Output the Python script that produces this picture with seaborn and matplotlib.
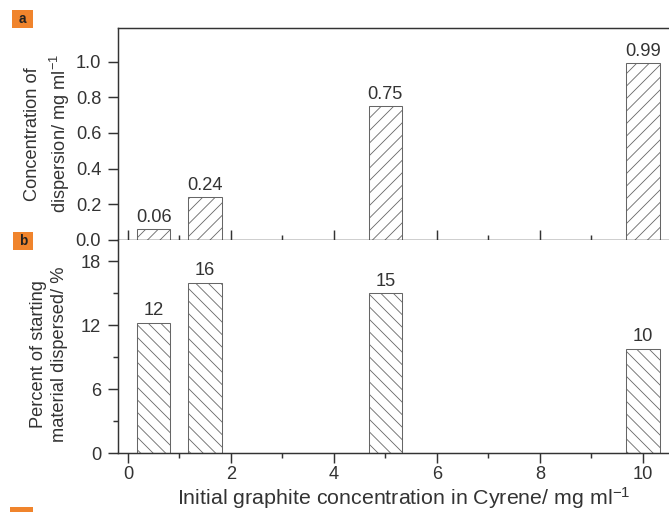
import matplotlib
matplotlib.use("Agg")
import matplotlib.pyplot as plt
import matplotlib.patches as mpatches
from matplotlib.ticker import MultipleLocator, FormatStrFormatter
import seaborn as sns

# data
conc = [0.5, 1.5, 5, 10]                 # initial graphite, mg/ml
disp_conc = [0.06, 0.24, 0.75, 0.99]     # panel a
disp_labels = ["0.06", "0.24", "0.75", "0.99"]
percent = [12.2, 16.0, 15.0, 9.8]        # panel b
percent_labels = ["12", "16", "15", "10"]

sns.set_style("ticks")
plt.rcParams["font.family"] = ["Liberation Sans", "DejaVu Sans"]
plt.rcParams["mathtext.default"] = "regular"
plt.rcParams["hatch.linewidth"] = 0.8
plt.rcParams["text.color"] = "#333333"
plt.rcParams["axes.labelcolor"] = "#333333"
plt.rcParams["xtick.color"] = "#333333"
plt.rcParams["ytick.color"] = "#333333"

DPI = 75
fig = plt.figure(figsize=(669 / DPI, 512 / DPI), dpi=DPI)
ax1 = fig.add_axes([0.1764, 0.53125, 0.873, 0.4147])
ax2 = fig.add_axes([0.1764, 0.1152, 0.873, 0.416])

fs = 17.5
bar_kw = dict(native_scale=True, orient="x", width=0.65, color="white",
              edgecolor="#666666", linewidth=1.0, errorbar=None)

# hatch spacing at 75 dpi: '//' -> ~12.5 px like the reference
sns.barplot(x=conc, y=disp_conc, hatch="//", ax=ax1, **bar_kw)
sns.barplot(x=conc, y=percent, hatch="\\\\", ax=ax2, **bar_kw)

for ax, vals, labs in [(ax1, disp_conc, disp_labels), (ax2, percent, percent_labels)]:
    for xv, yv, lab in zip(conc, vals, labs):
        ax.annotate(lab, (xv, yv), xytext=(0, 3.5), textcoords="offset points",
                    ha="center", va="bottom", fontsize=fs)
    ax.set_xlim(-0.194, 11.15)
    for s in ax.spines.values():
        s.set_color("#333333")
        s.set_linewidth(1.4)
    ax.spines["right"].set_visible(False)
    ax.xaxis.set_major_locator(MultipleLocator(2))
    ax.xaxis.set_minor_locator(MultipleLocator(1))
    ax.tick_params(axis="y", which="major", direction="out", length=9.6, width=1.4,
                   pad=6.5, labelsize=fs)
    ax.tick_params(axis="y", which="minor", direction="out", length=4.8, width=1.4)

# panel a
ax1.set_ylim(0, 1.19)
ax1.yaxis.set_major_locator(MultipleLocator(0.2))
ax1.yaxis.set_major_formatter(FormatStrFormatter("%.1f"))
ax1.tick_params(axis="x", which="major", direction="in", length=9.6, width=1.4,
                labelbottom=False)
ax1.tick_params(axis="x", which="minor", direction="in", length=4.8, width=1.4)
ax1.set_ylabel("Concentration of\ndispersion/ mg ml$^{-1}$", fontsize=fs, linespacing=1.35)
ax1.yaxis.set_label_coords(-0.079, 0.5)

# panel b
ax2.spines["top"].set_visible(False)
ax2.set_ylim(0, 20)
ax2.yaxis.set_major_locator(MultipleLocator(6))
ax2.yaxis.set_minor_locator(MultipleLocator(3))
ax2.tick_params(axis="x", which="major", direction="out", length=9.6, width=1.4,
                pad=3, labelsize=fs)
ax2.tick_params(axis="x", which="minor", direction="out", length=4.8, width=1.4)
ax2.set_xticks([0, 2, 4, 6, 8, 10])
ax2.set_xticklabels(["0", "2", "4", "6", "8", "10"])
ax2.set_ylabel("Percent of starting\nmaterial dispersed/ %", fontsize=fs, linespacing=1.3)
ax2.yaxis.set_label_coords(-0.085, 0.465)
ax2.set_xlabel("Initial graphite concentration in Cyrene/ mg ml$^{-1}$", fontsize=20.5)
ax2.xaxis.set_label_coords(0.49, -0.15)

# orange panel tags
orange = "#f0842c"
for (x0, y0, w, h, tag) in [(12, 10, 21, 18, "a"), (13, 232, 20, 18, "b"), (10, 507, 23, 8, "")]:
    fig.add_artist(mpatches.Rectangle((x0 / 669, 1 - (y0 + h) / 512), w / 669, h / 512,
                                      transform=fig.transFigure, color=orange, lw=0))
    if tag:
        fig.text((x0 + w / 2) / 669, 1 - (y0 + h / 2) / 512, tag, ha="center", va="center",
                 fontsize=13, fontweight="bold", color="#222222")

fig.savefig("out.png", dpi=DPI)
